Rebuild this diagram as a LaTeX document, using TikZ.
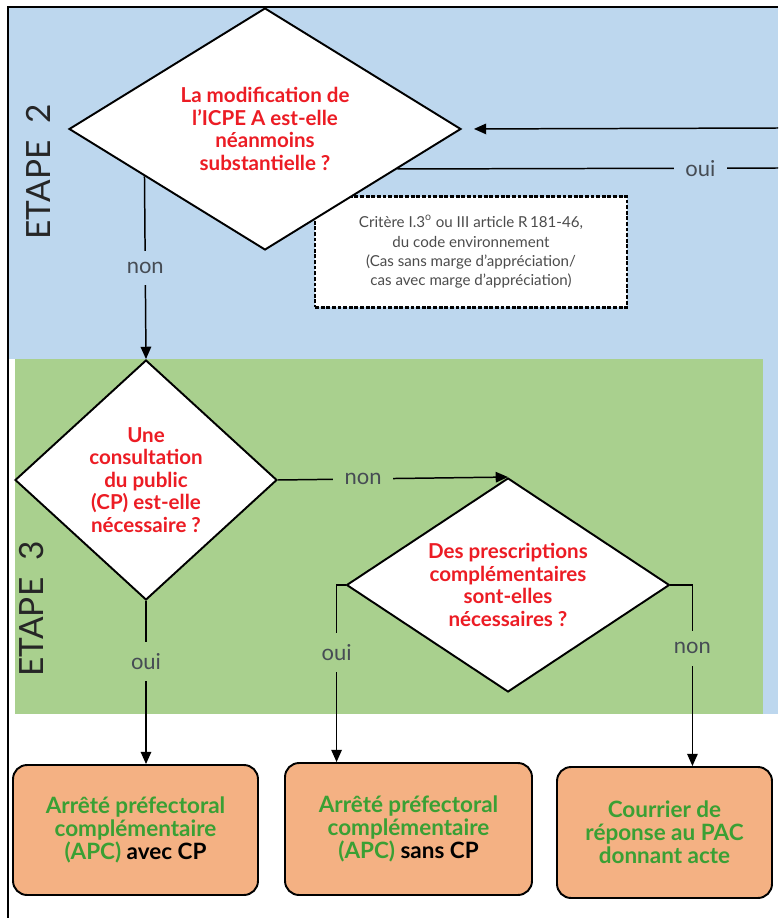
\documentclass[tikz,border=0pt]{standalone}
\usepackage{fontspec}
\setmainfont{Lato}
\usepackage{tikz}
\usetikzlibrary{arrows.meta, shapes.geometric, calc}

\definecolor{etapeblue}{RGB}{189,215,238}
\definecolor{etapegreen}{RGB}{169,208,142}
\definecolor{boxorange}{RGB}{244,177,131}
\definecolor{qred}{RGB}{236,28,36}
\definecolor{agreen}{RGB}{58,160,52}
\definecolor{labelgray}{RGB}{70,76,84}

\begin{document}
\begin{tikzpicture}[x=0.02cm, y=-0.02cm,
        question/.style={diamond, draw=black, line width=1.1pt, fill=white, inner sep=0pt,
            align=center, text=qred, font=\bfseries\fontsize{11.7}{12.8}\selectfont},
        issue/.style={rectangle, rounded corners=8pt, draw=black, line width=1.1pt, fill=boxorange,
            align=center, text=agreen, font=\bfseries\fontsize{12.8}{13.2}\selectfont},
        critere/.style={rectangle, draw=black, dashed, dash pattern=on 2.2pt off 1pt, line width=1.2pt,
            fill=white, align=center, text=black!70, font=\fontsize{8.6}{11}\selectfont,
            minimum width=6.24cm, minimum height=2.22cm},
        etape/.style={rotate=90, text=black!85, font=\fontsize{19}{22}\selectfont},
        answer/.style={text=labelgray, font=\fontsize{12.5}{14}\selectfont, inner sep=6.5pt},
        line/.style={line width=0.85pt},
        flow/.style={line, -{Triangle[length=7pt,width=6pt]}}]
        \useasboundingbox (0,0) rectangle (778,918);

        % fonds des etapes
        \fill[etapeblue] (9,8) rectangle (778,359);
        \fill[etapeblue] (763,359) rectangle (778,714);
        \fill[etapegreen] (15,359) rectangle (763,714);
        \draw[line width=1pt] (8,918) -- (8,7) -- (778,7);

        \node[etape] (etape2) at (38,172) {ETAPE\enspace 2};
        \node[etape] (etape3) at (32,609) {ETAPE\enspace 3};

        % etape 2
        \node[critere] (crit) at (471,252) {Critère I.3\textsuperscript{o} ou III article R\,181-46,\\du code environnement\\(Cas sans marge d’appréciation/\\cas avec marge d’appréciation)};
        \node[question, aspect=1.62, minimum width=7.84cm, minimum height=4.84cm] (modif) at (265,129) {La modification de\\l'ICPE A est-elle\\néanmoins\\substantielle ?};

        % etape 3
        \node[question, aspect=1.09, minimum width=5.24cm, minimum height=4.8cm] (consult) at (146,480) {Une\\consultation\\du public\\(CP) est-elle\\nécessaire ?};
        \node[question, aspect=1.51, minimum width=6.46cm, minimum height=4.28cm] (prescr) at (508,585) {Des prescriptions\\complémentaires\\sont-elles\\nécessaires ?};

        % issues
        \node[issue, minimum width=4.9cm, minimum height=2.6cm] (apcavec) at (135.5,830) {Arrêté préfectoral\\complémentaire\\(APC) \textcolor{black}{avec CP}};
        \node[issue, minimum width=4.94cm, minimum height=2.64cm] (apcsans) at (408.5,829) {Arrêté préfectoral\\complémentaire\\(APC) \textcolor{black}{sans CP}};
        \node[issue, minimum width=4.3cm, minimum height=2.62cm] (courrier) at (664.5,832.5) {Courrier de\\réponse au PAC\\donnant acte};

        \coordinate (modifnon) at ($(modif.west)!0.388!(modif.south)$);
        \coordinate (modifoui) at ($(modif.east)!0.328!(modif.south)$);
        \coordinate (ouiend) at (778,168);
        \coordinate (retour) at (778,128);
        \coordinate (prescroui) at ($(prescr.west)+(-9,0)$);
        \coordinate (prescrnon) at ($(prescr.east)+(22,0)$);

        \draw[flow] (modifnon) -- (consult.north) node[answer, fill=etapeblue, midway] {non};
        \draw[line] (modifoui) -- (ouiend) node[answer, fill=etapeblue, pos=0.796] {oui};
        \draw[flow, shorten >=0.24cm] (retour) -- (modif.east);

        \draw[flow] (consult.east) -- (prescr.north) node[answer, fill=etapegreen, pos=0.37] {non};
        \draw[flow] (consult.south) -- (consult.south |- apcavec.north) node[answer, fill=etapegreen, pos=0.37] {oui};
        \draw[flow] (prescr.west) -- (prescroui) -- (prescroui |- apcsans.north) node[answer, fill=etapegreen, pos=0.38] {oui};
        \draw[flow] (prescr.east) -- (prescrnon) -- (prescrnon |- courrier.north) node[answer, fill=etapegreen, pos=0.35] {non};

    \end{tikzpicture}
\end{document}
